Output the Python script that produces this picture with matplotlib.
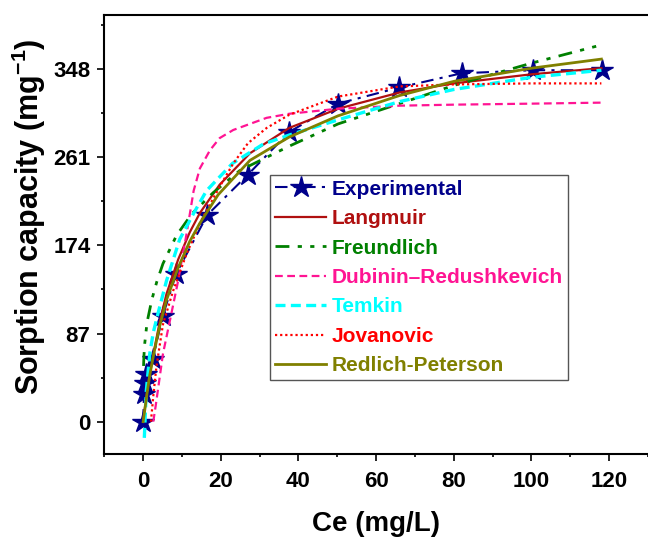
import matplotlib
matplotlib.use("Agg")
import matplotlib.pyplot as plt
from matplotlib.ticker import MultipleLocator

plt.rcParams['font.family'] = ['Liberation Sans', 'DejaVu Sans']
plt.rcParams['font.weight'] = 'bold'
plt.rcParams['mathtext.fontset'] = 'custom'
plt.rcParams['mathtext.rm'] = 'Liberation Sans:bold'
plt.rcParams['mathtext.bf'] = 'Liberation Sans:bold'
plt.rcParams['mathtext.default'] = 'bf'

# ---- data ----
ce_exp = [0, 0.2, 0.4, 0.8, 2.5, 5.0, 8.5, 16.5, 27.0, 37.6, 50.2, 66.0, 82.0, 100.4, 118.2]
q_exp = [0, 27, 38, 47, 62, 104, 146, 204, 244, 286, 314, 330, 344, 347, 347]

ce_lang = [0, 0.5, 1, 1.7, 3, 4.3, 6, 9, 12, 14.6, 19.7, 27.5, 37.6, 50.2, 66, 80, 100, 118]
q_lang = [0, 15, 29, 47, 74, 99, 126, 160, 187, 206, 234, 265, 290, 309, 325, 334, 343, 349]

ce_freu = [0.1, 0.2, 0.4, 1, 2.2, 3.5, 5.1, 8.6, 12.5, 18, 24.9, 37.6, 50.2, 66, 80, 100, 118]
q_freu = [55, 65, 77, 98, 120, 138, 156, 184, 205, 226, 248, 272, 294, 314, 332, 354, 372]

ce_dr = [2.6, 3.2, 3.9, 5.1, 6.9, 9.0, 11.2, 13.0, 14.6, 17.2, 19.7, 23.2, 31.8, 37.6, 50.2, 66, 80, 100, 118]
q_dr = [0, 15, 34, 67, 100, 139, 186, 228, 250, 268, 280, 288, 300, 304, 309, 312, 313, 314, 315]

ce_tem = [0.3, 0.8, 1.7, 2.6, 3.9, 6.0, 9.4, 12.9, 16.3, 23, 30.9, 37.6, 50.2, 66, 80, 100, 118]
q_tem = [-16, 30, 67, 88, 108, 139, 180, 205, 228, 255, 274, 283, 298, 316, 328, 340, 347]

ce_jov = [2.0, 2.6, 3.4, 5.1, 7.7, 11.2, 15, 19.7, 23.2, 27, 31.8, 37.6, 50.2, 66, 80, 100, 118]
q_jov = [0, 25, 54, 96, 129, 166, 199, 232, 255, 275, 290, 303, 321, 331, 333, 334, 334]

ce_rp = [0, 0.5, 1, 1.7, 3, 4.3, 6, 9, 12, 14.6, 19.3, 27.5, 37.6, 50.2, 66, 80, 100, 118]
q_rp = [0, 14, 28, 46, 72, 95, 120, 152, 178, 196, 224, 258, 281, 302, 322, 336, 349, 358]

y_ticks = [0, 87, 174, 261, 348]
x_ticks = [0, 20, 40, 60, 80, 100, 120]

fig = plt.figure(figsize=(6.48, 5.38), dpi=100)
ax = fig.add_axes([0.161, 0.156, 0.839, 0.817])

ax.plot(ce_exp, q_exp, color='#00008B', lw=1.5, ls=(0, (6, 3, 1.5, 3)),
        marker='*', ms=16, mec='#00008B', mfc='#00008B', label='Experimental', zorder=2)
ax.plot(ce_lang, q_lang, color='#B01010', lw=1.6, ls='-', label='Langmuir', zorder=3)
ax.plot(ce_freu, q_freu, color='#008000', lw=2.0, ls=(0, (5, 3, 1.5, 3, 1.5, 3)), label='Freundlich', zorder=3)
ax.plot(ce_dr, q_dr, color='#FF1493', lw=1.6, ls=(0, (3.5, 2)), label='Dubinin–Redushkevich', zorder=3)
ax.plot(ce_tem, q_tem, color='#00FFFF', lw=2.4, ls=(0, (3, 1.6)), label='Temkin', zorder=3)
ax.plot(ce_jov, q_jov, color='#FF0000', lw=1.6, ls=(0, (1, 1.3)), label='Jovanovic', zorder=3)
ax.plot(ce_rp, q_rp, color='#808000', lw=2.0, ls='-', label='Redlich-Peterson', zorder=3)

ax.set_xlim(-10, 130)
ax.set_ylim(-32, 402)
ax.set_xticks(x_ticks)
ax.set_yticks(y_ticks)
ax.xaxis.set_minor_locator(MultipleLocator(10))
ax.yaxis.set_minor_locator(MultipleLocator(43.5))

for s in ['left', 'bottom', 'top']:
    ax.spines[s].set_linewidth(1.5)
ax.spines['right'].set_visible(False)

ax.tick_params(axis='both', which='major', direction='out', length=5, width=1.2, labelsize=16)
ax.tick_params(axis='both', which='minor', direction='out', length=2.5, width=1.2)
ax.tick_params(axis='x', which='major', pad=7)
ax.tick_params(axis='y', which='major', pad=5)
ax.tick_params(top=False, right=False, which='both')
for lab in ax.get_xticklabels() + ax.get_yticklabels():
    lab.set_fontweight('bold')

ax.set_xlabel('Ce (mg/L)', fontsize=20, fontweight='bold', labelpad=14)
ax.set_ylabel('Sorption capacity (mg$^{-1}$)', fontsize=22, fontweight='bold')
ax.yaxis.set_label_coords(-0.103, 0.54)

leg = ax.legend(loc='upper left', bbox_to_anchor=(0.305, 0.636),
                frameon=True, fancybox=False, edgecolor='#555555', framealpha=1,
                borderaxespad=0, handlelength=2.45, handletextpad=0.25,
                labelspacing=0.5, borderpad=0.25, prop={'weight': 'bold', 'size': 15})
leg.get_frame().set_linewidth(1.0)
for txt, ln in zip(leg.get_texts(), leg.get_lines()):
    txt.set_color(ln.get_color())

fig.savefig('out.png', dpi=100)
